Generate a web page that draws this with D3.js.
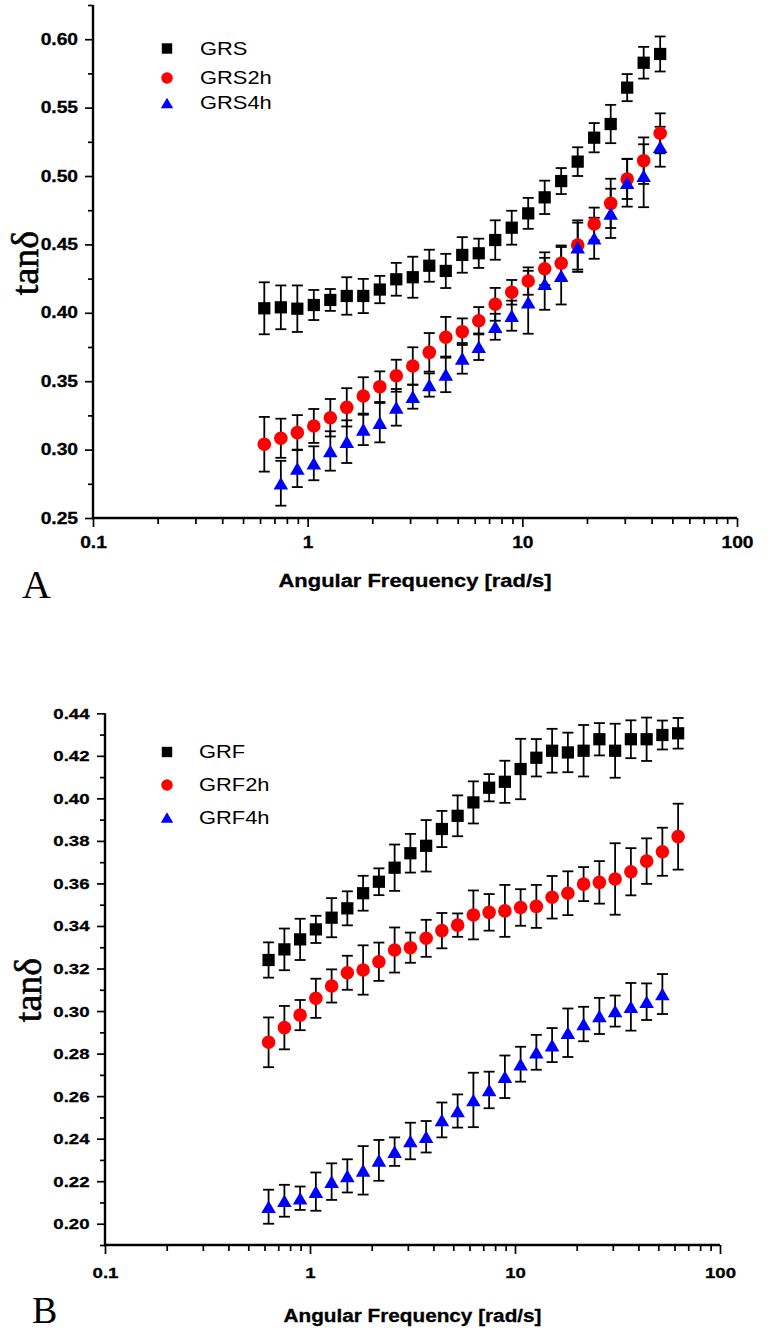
<!DOCTYPE html>
<html><head><meta charset="utf-8">
<script src="https://cdn.jsdelivr.net/npm/d3@7"></script>
<style>body{margin:0;background:#fff}svg{display:block}</style>
</head><body>
<svg id="c" width="778" height="1338"></svg>
<script>
// ---- data ----
const freq = [0.628, 0.750, 0.895, 1.068, 1.275, 1.521, 1.816, 2.168, 2.587, 3.088, 3.686, 4.399, 5.250, 6.266, 7.478, 8.925, 10.65, 12.71, 15.17, 18.11, 21.61, 25.80, 30.79, 36.75, 43.86, 52.35, 62.48];
const xTicks = [0.1, 1, 10, 100];
const yTicksA = [0.25, 0.30, 0.35, 0.40, 0.45, 0.50, 0.55, 0.60];
const yTicksB = [0.20, 0.22, 0.24, 0.26, 0.28, 0.30, 0.32, 0.34, 0.36, 0.38, 0.40, 0.42, 0.44];

const grs     = [0.4033, 0.404, 0.403, 0.4057, 0.4094, 0.4123, 0.4123, 0.417, 0.4245, 0.426, 0.4344, 0.4306, 0.4423, 0.4435, 0.4532, 0.4622, 0.4727, 0.4844, 0.4963, 0.5105, 0.528, 0.538, 0.5646, 0.5828, 0.5892];
const grsErr  = [0.019, 0.016, 0.017, 0.011, 0.008, 0.0137, 0.0125, 0.010, 0.012, 0.015, 0.0117, 0.0125, 0.013, 0.0107, 0.0144, 0.0124, 0.0113, 0.0122, 0.0095, 0.0105, 0.0107, 0.014, 0.0099, 0.0116, 0.0128];
const grs2h   = [0.3039, 0.3083, 0.3124, 0.3173, 0.3233, 0.3309, 0.3392, 0.346, 0.354, 0.3611, 0.3711, 0.3821, 0.3862, 0.3942, 0.4062, 0.415, 0.4232, 0.4322, 0.4362, 0.4496, 0.4649, 0.48, 0.4978, 0.5112, 0.5312];
const grs2hErr= [0.020, 0.0143, 0.0128, 0.0124, 0.0137, 0.014, 0.0137, 0.0112, 0.0117, 0.0137, 0.0141, 0.0149, 0.0097, 0.010, 0.012, 0.009, 0.010, 0.012, 0.013, 0.018, 0.012, 0.018, 0.0146, 0.017, 0.0146];
const grs4h   = [null, 0.2754, 0.2863, 0.29, 0.299, 0.3058, 0.3148, 0.3197, 0.3309, 0.3387, 0.3472, 0.355, 0.3667, 0.3752, 0.3898, 0.3979, 0.4077, 0.4212, 0.4271, 0.4479, 0.4545, 0.4727, 0.4951, 0.5002, 0.5214];
const grs4hErr= [null, 0.0164, 0.0137, 0.0124, 0.0144, 0.0156, 0.0115, 0.0144, 0.0134, 0.0088, 0.0085, 0.013, 0.0112, 0.0097, 0.0095, 0.011, 0.023, 0.019, 0.021, 0.018, 0.015, 0.018, 0.0175, 0.023, 0.0146];

const grf     = [0.324, 0.329, 0.3337, 0.3384, 0.3439, 0.3483, 0.3554, 0.3608, 0.3674, 0.3742, 0.3777, 0.3856, 0.3918, 0.3981, 0.405, 0.4078, 0.4138, 0.4191, 0.4224, 0.4216, 0.4224, 0.4278, 0.4224, 0.4278, 0.4278, 0.4298, 0.4306];
const grfErr  = [0.0083, 0.0098, 0.0097, 0.0064, 0.0092, 0.008, 0.0082, 0.0063, 0.0109, 0.0091, 0.0121, 0.0085, 0.0096, 0.0099, 0.0064, 0.0099, 0.0142, 0.0088, 0.0103, 0.0093, 0.0121, 0.0076, 0.0127, 0.0089, 0.0102, 0.0068, 0.0072];
const grf2h   = [0.2853, 0.2922, 0.2981, 0.306, 0.3118, 0.318, 0.3193, 0.3232, 0.3287, 0.3298, 0.3342, 0.3378, 0.3404, 0.3452, 0.3464, 0.3471, 0.3487, 0.3492, 0.3535, 0.3554, 0.3597, 0.3605, 0.3621, 0.3655, 0.3705, 0.3749, 0.382];
const grf2hErr= [0.0117, 0.0102, 0.0071, 0.0092, 0.0078, 0.008, 0.0116, 0.009, 0.0106, 0.0071, 0.0087, 0.0083, 0.0055, 0.0115, 0.0086, 0.0122, 0.0086, 0.0101, 0.01, 0.0103, 0.008, 0.01, 0.0168, 0.0111, 0.0107, 0.0113, 0.0155];
const grf4h   = [0.208, 0.2108, 0.212, 0.2151, 0.2198, 0.2225, 0.2251, 0.2298, 0.2339, 0.2389, 0.2409, 0.2488, 0.253, 0.2582, 0.2629, 0.2691, 0.275, 0.2806, 0.284, 0.2898, 0.2939, 0.2977, 0.3, 0.302, 0.3044, 0.308];
const grf4hErr= [0.008, 0.0075, 0.0055, 0.009, 0.0086, 0.0078, 0.0114, 0.0096, 0.0067, 0.0086, 0.0074, 0.0082, 0.0078, 0.0128, 0.0086, 0.01, 0.0082, 0.0082, 0.008, 0.0114, 0.0081, 0.0085, 0.0073, 0.0112, 0.0086, 0.0094];

// ---- drawing ----
const svg = d3.select('#c');
svg.append('rect').attr('width', 778).attr('height', 1338).attr('fill', '#fff');

const SANS = "'Liberation Sans', Arial, sans-serif";
const SERIF = "'Liberation Serif', 'Times New Roman', serif";

function stretch(sel, k) {
  sel.each(function () {
    const w = this.getComputedTextLength();
    if (w > 0) {
      this.setAttribute('textLength', (w * k).toFixed(2));
      this.setAttribute('lengthAdjust', 'spacingAndGlyphs');
    }
  });
}

const triangleSym = {
  draw(ctx, size) {
    const a = Math.sqrt(size * 4 / Math.sqrt(3));
    const h = a * Math.sqrt(3) / 2;
    ctx.moveTo(0, -h / 2);
    ctx.lineTo(a / 2, h / 2);
    ctx.lineTo(-a / 2, h / 2);
    ctx.closePath();
  }
};
const shapes = {
  square: d3.symbol().type(d3.symbolSquare).size(150),
  circle: d3.symbol().type(d3.symbolCircle).size(145),
  triangle: d3.symbol().type(triangleSym).size(92)
};

const panels = [
  {
    xRange: [93, 737], yDomain: [0.25, 0.625], yRange: [518, 5], yTicks: yTicksA, minorStep: 0.025,
    tickFont: 16, xPad: 10, yPad: 7,
    series: [
      { name: 'GRS', values: grs, err: grsErr, color: '#000', shape: 'square' },
      { name: 'GRS2h', values: grs2h, err: grs2hErr, color: '#ff0000', shape: 'circle' },
      { name: 'GRS4h', values: grs4h, err: grs4hErr, color: '#0000ff', shape: 'triangle' }
    ],
    legendX: 167, legendTextX: 200, legendY: [48.5, 78, 103],
    letter: 'A', letterX: 22, letterY: 598, letterSize: 40,
    ylabX: 38, ylabY: 263, titleY: 587, titleLen: 273, titleSize: 18
  },
  {
    xRange: [105, 720], yDomain: [0.19, 0.44], yRange: [1245, 713.3], yTicks: yTicksB, minorStep: 0.01,
    tickFont: 15.5, xPad: 13, yPad: 7.5,
    series: [
      { name: 'GRF', values: grf, err: grfErr, color: '#000', shape: 'square' },
      { name: 'GRF2h', values: grf2h, err: grf2hErr, color: '#ff0000', shape: 'circle' },
      { name: 'GRF4h', values: grf4h, err: grf4hErr, color: '#0000ff', shape: 'triangle' }
    ],
    legendX: 167, legendTextX: 199, legendY: [752, 785, 817.5],
    letter: 'B', letterX: 32, letterY: 1323, letterSize: 38,
    ylabX: 41, ylabY: 990, titleY: 1322, titleLen: 258, titleSize: 17.5
  }
];

panels.forEach(p => {
  const x = d3.scaleLog().domain([0.1, 100]).range(p.xRange);
  const y = d3.scaleLinear().domain(p.yDomain).range(p.yRange);
  const g = svg.append('g');
  const x0 = p.xRange[0], y0 = p.yRange[0];

  // minor ticks
  const xMinor = [];
  [0.1, 1, 10].forEach(d => { for (let m = 2; m <= 9; m++) xMinor.push(+(d * m).toFixed(3)); });
  const nMinor = Math.round((p.yDomain[1] - p.yDomain[0]) / p.minorStep);
  const yMinor = d3.range(0, nMinor + 1).map(i => +(p.yDomain[0] + i * p.minorStep).toFixed(3))
    .filter(v => !p.yTicks.some(t => Math.abs(t - v) < 1e-6));

  const axStyle = sel => {
    sel.select('.domain').remove();
    sel.selectAll('line').attr('stroke', '#000').attr('stroke-width', 1.7);
  };

  g.append('g').attr('transform', `translate(0,${y0})`)
    .call(d3.axisBottom(x).tickValues(xMinor).tickSize(6).tickFormat(''))
    .call(axStyle);
  const xa = g.append('g').attr('transform', `translate(0,${y0})`)
    .call(d3.axisBottom(x).tickValues(xTicks).tickSize(9).tickPadding(p.xPad).tickFormat(d => String(d)))
    .call(axStyle);
  xa.selectAll('text').attr('font-family', SANS).attr('font-weight', 'bold')
    .attr('font-size', p.tickFont).attr('fill', '#000')
    .attr('stroke', '#000').attr('stroke-width', 0.3);
  stretch(xa.selectAll('text'), 1.2);

  g.append('g').attr('transform', `translate(${x0},0)`)
    .call(d3.axisLeft(y).tickValues(yMinor).tickSize(5).tickFormat(''))
    .call(axStyle);
  const ya = g.append('g').attr('transform', `translate(${x0},0)`)
    .call(d3.axisLeft(y).tickValues(p.yTicks).tickSize(8).tickPadding(p.yPad).tickFormat(d3.format('.2f')))
    .call(axStyle);
  ya.selectAll('text').attr('font-family', SANS).attr('font-weight', 'bold')
    .attr('font-size', p.tickFont).attr('fill', '#000')
    .attr('stroke', '#000').attr('stroke-width', 0.3);
  stretch(ya.selectAll('text'), 1.2);

  // axis lines
  g.append('line').attr('x1', x0).attr('x2', x0).attr('y1', y0 + 1).attr('y2', p.yRange[1])
    .attr('stroke', '#000').attr('stroke-width', 2.4);
  g.append('line').attr('x1', x0 - 1).attr('x2', p.xRange[1]).attr('y1', y0).attr('y2', y0)
    .attr('stroke', '#000').attr('stroke-width', 2.4);

  // error bars
  const cap = 5.5;
  p.series.forEach(s => {
    const pts = s.values.map((v, i) => ({ f: freq[i], v, e: s.err[i] })).filter(d => d.v != null);
    const eb = g.append('g').attr('stroke', '#000').attr('stroke-width', 1.8).attr('fill', 'none');
    const sel = eb.selectAll('g').data(pts).join('g');
    sel.append('line').attr('x1', d => x(d.f)).attr('x2', d => x(d.f))
      .attr('y1', d => y(d.v - d.e)).attr('y2', d => y(d.v + d.e));
    sel.append('line').attr('x1', d => x(d.f) - cap).attr('x2', d => x(d.f) + cap)
      .attr('y1', d => y(d.v + d.e)).attr('y2', d => y(d.v + d.e));
    sel.append('line').attr('x1', d => x(d.f) - cap).attr('x2', d => x(d.f) + cap)
      .attr('y1', d => y(d.v - d.e)).attr('y2', d => y(d.v - d.e));
  });
  // markers
  p.series.forEach(s => {
    const pts = s.values.map((v, i) => ({ f: freq[i], v })).filter(d => d.v != null);
    g.append('g').selectAll('path').data(pts).join('path')
      .attr('d', shapes[s.shape]())
      .attr('transform', d => `translate(${x(d.f)},${y(d.v)})`)
      .attr('fill', s.color);
  });

  // legend
  p.series.forEach((s, i) => {
    const ly = p.legendY[i];
    g.append('path').attr('d', shapes[s.shape]())
      .attr('transform', `translate(${p.legendX},${ly}) scale(0.85)`).attr('fill', s.color);
    const t = g.append('text').attr('x', p.legendTextX).attr('y', ly + 6.3)
      .attr('font-family', SANS).attr('font-size', 17.5).attr('fill', '#000').text(s.name);
    stretch(t, 1.25);
  });

  // axis title
  g.append('text').attr('x', (p.xRange[0] + p.xRange[1]) / 2).attr('y', p.titleY)
    .attr('text-anchor', 'middle').attr('font-family', SANS).attr('font-weight', 'bold')
    .attr('font-size', p.titleSize).attr('fill', '#000')
    .attr('stroke', '#000').attr('stroke-width', 0.3)
    .attr('textLength', p.titleLen).attr('lengthAdjust', 'spacingAndGlyphs')
    .text('Angular Frequency [rad/s]');

  // y label
  g.append('text').attr('transform', `translate(${p.ylabX},${p.ylabY}) rotate(-90)`)
    .attr('text-anchor', 'middle').attr('font-family', SERIF).attr('font-size', 38)
    .attr('fill', '#000').attr('stroke', '#000').attr('stroke-width', 0.6).text('tanδ');

  // panel letter
  g.append('text').attr('x', p.letterX).attr('y', p.letterY)
    .attr('font-family', SERIF).attr('font-size', p.letterSize).attr('fill', '#000').text(p.letter);
});
</script>
</body></html>
